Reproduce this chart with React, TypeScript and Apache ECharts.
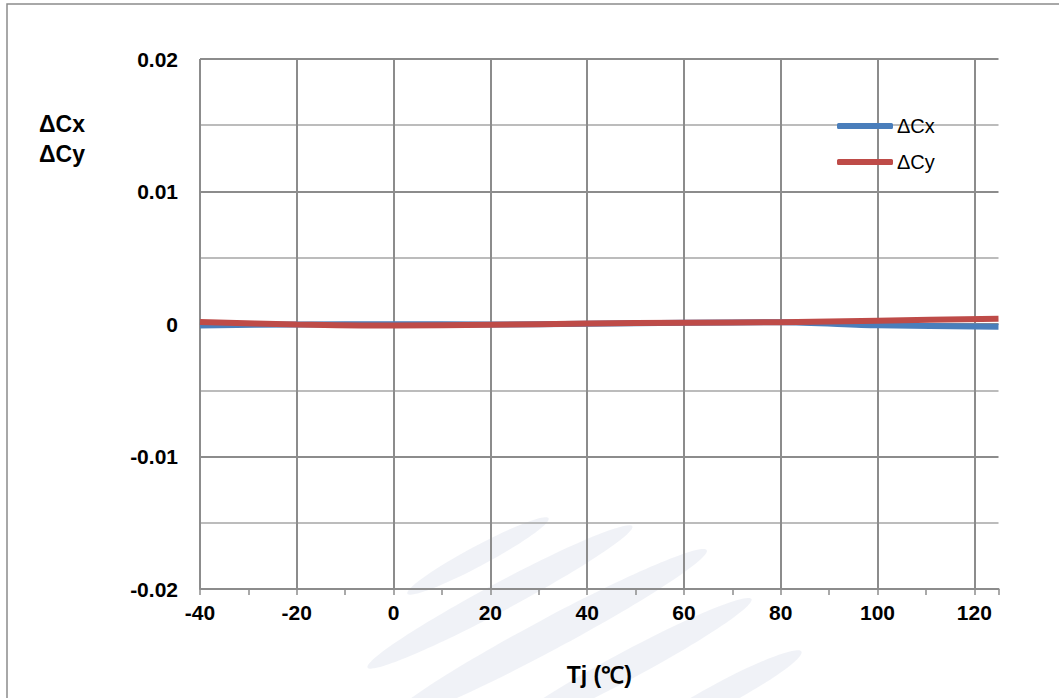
import React, { useEffect, useRef } from "react";
import * as echarts from "echarts";

const tempC = [-40, -20, 0, 20, 40, 60, 80, 100, 125];
const deltaCx = [-0.00012, -0.00003, -0.00001, -0.00004, 0.00002, 0.0001, 0.00013, -0.0001, -0.0002];
const deltaCy = [0.00015, -0.00004, -0.00012, -0.00005, 0.00003, 0.0001, 0.00014, 0.00025, 0.0004];
const seriesNames = ["ΔCx", "ΔCy"];
const xGridValues = [-40, -20, 0, 20, 40, 60, 80, 100, 120];
const yTickLabels: Record<string, string> = { "0.02": "0.02", "0.01": "0.01", "0": "0", "-0.01": "-0.01", "-0.02": "-0.02" };

export default function App() {
  const ref = useRef<HTMLDivElement>(null);
  useEffect(() => {
    if (!ref.current) return;
    const chart = echarts.init(ref.current, undefined, { renderer: "svg" });
    const boldFont = "Liberation Sans";
    const wm = "#eef1f6";
    const ell = (x: number, y: number, rx: number, ry: number) => ({
      type: "ellipse",
      x,
      y,
      rotation: 0.49,
      shape: { cx: 0, cy: 0, rx, ry },
      style: { fill: wm, opacity: 0.9 },
      z: -10,
      silent: true,
    });
    chart.setOption({
      animation: false,
      backgroundColor: "#ffffff",
      graphic: [
        { type: "rect", shape: { x: 7, y: 4, width: 1200, height: 900 }, style: { fill: "none", stroke: "#8c8c8c", lineWidth: 1.5 }, z: -20, silent: true },
        ell(478, 556, 80, 10),
        ell(500, 597, 150, 14),
        ell(548, 635, 180, 16),
        ell(628, 665, 140, 14),
        ell(722, 694, 90, 12),
        {
          type: "text",
          left: 39,
          top: 109,
          style: { text: "ΔCx\nΔCy", font: `bold 23px "${boldFont}"`, fill: "#000", lineHeight: 30 },
        },
      ],
      legend: {
        orient: "vertical",
        left: 832,
        top: 111,
        itemGap: 16,
        itemWidth: 56,
        itemHeight: 6,
        icon: "roundRect",
        data: seriesNames,
        textStyle: { fontFamily: "Liberation Sans", fontSize: 20, color: "#000", padding: [0, 0, 0, -1] },
      },
      grid: { left: 200, top: 59, right: 60.5, bottom: 109, containLabel: false },
      xAxis: {
        type: "value",
        min: -40,
        max: 125,
        interval: 20,
        name: "Tj (℃)",
        nameLocation: "middle",
        nameGap: 74,
        nameTextStyle: { fontFamily: "Liberation Sans Narrow, Liberation Sans", fontWeight: "bold", fontSize: 23, color: "#000" },
        axisLine: { show: true, onZero: false, lineStyle: { color: "#8c8c8c", width: 2 } },
        axisTick: { show: true, length: 6, lineStyle: { color: "#8c8c8c", width: 1.5 } },
        minorTick: { show: true, splitNumber: 2, length: 6, lineStyle: { color: "#8c8c8c", width: 1.5 } },
        axisLabel: {
          margin: 13,
          fontFamily: boldFont,
          fontWeight: "bold",
          fontSize: 21,
          color: "#000",
          formatter: (v: number) => (v > 120 ? "" : String(v)),
        },
        splitLine: { show: false },
      },
      yAxis: {
        type: "value",
        min: -0.02,
        max: 0.02,
        interval: 0.01,
        axisLine: { show: true, lineStyle: { color: "#8c8c8c", width: 2 } },
        axisTick: { show: false },
        axisLabel: {
          margin: 22,
          fontFamily: boldFont,
          fontWeight: "bold",
          fontSize: 21,
          color: "#000",
          formatter: (v: number) => yTickLabels[String(Math.round(v * 100) / 100)] ?? String(v),
        },
        splitLine: { show: true, lineStyle: { color: "#8c8c8c", width: 2 } },
        minorSplitLine: { show: true, lineStyle: { color: "#a6a6a6", width: 1.5 } },
        minorTick: { show: false, splitNumber: 2 },
      },
      series: [
        {
          name: seriesNames[0],
          type: "line",
          data: tempC.map((t, i) => [t, deltaCx[i]]),
          smooth: 0.3,
          showSymbol: false,
          z: 3,
          lineStyle: { color: "#4a7ebb", width: 6 },
          itemStyle: { color: "#4a7ebb" },
          markLine: {
            silent: true,
            symbol: "none",
            label: { show: false },
            z: 1,
            lineStyle: { color: "#8c8c8c", width: 2, type: "solid" },
            data: xGridValues.map((v) => ({ xAxis: v })),
          },
        },
        {
          name: seriesNames[1],
          type: "line",
          data: tempC.map((t, i) => [t, deltaCy[i]]),
          smooth: 0.3,
          showSymbol: false,
          z: 4,
          lineStyle: { color: "#be4b48", width: 6 },
          itemStyle: { color: "#be4b48" },
        },
      ],
    });
    return () => chart.dispose();
  }, []);
  return <div ref={ref} style={{ position: "fixed", left: 0, top: 0, width: 1059, height: 698 }} />;
}
